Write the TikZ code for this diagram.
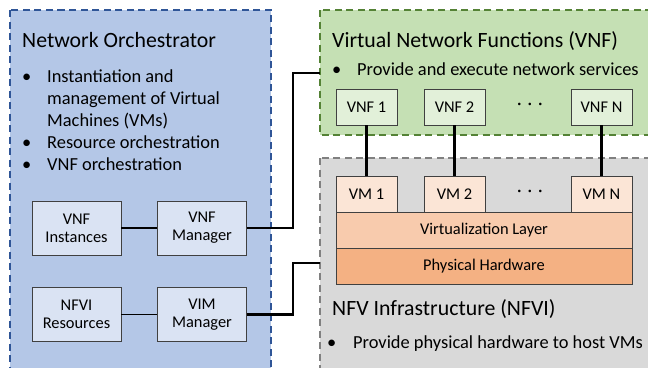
\documentclass[tikz,border=0pt]{standalone}
\usepackage{fontspec}
\setmainfont{Carlito}
\usetikzlibrary{positioning}
\definecolor{orchFill}{HTML}{B4C7E7}
\definecolor{orchLine}{HTML}{2F5597}
\definecolor{orchBox}{HTML}{DAE3F3}
\definecolor{vnfFill}{HTML}{C5E0B4}
\definecolor{vnfLine}{HTML}{548235}
\definecolor{vnfBox}{HTML}{E2F0D9}
\definecolor{nfviFill}{HTML}{D9D9D9}
\definecolor{nfviLine}{HTML}{808080}
\definecolor{vmFill}{HTML}{FBE5D6}
\definecolor{virtFill}{HTML}{F8CBAD}
\definecolor{hwFill}{HTML}{F4B183}
\tikzset{
  area/.style={line width=1.8pt, dash pattern=on 7pt off 4.5pt},
  box/.style={rectangle, draw=black!75, line width=0.9pt, align=center, inner sep=0pt,
    font={\fontsize{16.4}{18}\selectfont}},
  mgrBox/.style={box, fill=orchBox, minimum width=89pt, minimum height=54pt},
  funcBox/.style={box, fill=vnfBox, minimum width=61pt, minimum height=36pt},
  vmBox/.style={box, fill=vmFill, minimum width=61pt, minimum height=36pt},
  layer/.style={box, minimum width=296pt, minimum height=36pt},
  title/.style={anchor=base west, inner sep=0pt, font={\fontsize{21.8}{26}\selectfont}},
  item/.style={anchor=base west, inner sep=0pt, align=left, font={\fontsize{18.4}{22}\selectfont}},
  dots/.style={inner sep=0pt, font={\fontsize{18}{22}\selectfont}},
  link/.style={line width=2.2pt},
  shortLink/.style={line width=1.6pt}
}
\begin{document}
\begin{tikzpicture}[x=1pt, y=-1pt]
  \useasboundingbox (0,0) rectangle (648,367);
  \clip (0,0) rectangle (648,367);
  % the three areas
  \draw[area, draw=orchLine, fill=orchFill] (10,10) rectangle (271,380);
  \draw[area, draw=vnfLine, fill=vnfFill] (320,10) rectangle (660,135);
  \draw[area, draw=nfviLine, fill=nfviFill] (320,158) rectangle (660,380);

  % network orchestrator
  \node[title] (orchTitle) at (22,47) {Network Orchestrator};
  \node[item] (orchDotA) at (22,82) {\textbullet};
  \node[item] (orchItemA) at (47,126) {Instantiation and\\management of Virtual\\Machines (VMs)};
  \node[item] (orchDotB) at (22,148) {\textbullet};
  \node[item] (orchItemB) at (47,148) {Resource orchestration};
  \node[item] (orchDotC) at (22,170) {\textbullet};
  \node[item] (orchItemC) at (47,170) {VNF orchestration};

  \node[mgrBox] (vnfInst) at (76.5,228) {VNF\\Instances};
  \node[mgrBox] (vnfMgr) at (202,228) {VNF\\Manager};
  \node[mgrBox] (nfviRes) at (76.5,314.5) {NFVI\\Resources};
  \node[mgrBox] (vimMgr) at (202,314.5) {VIM\\Manager};

  % virtual network functions
  \node[title] (vnfTitle) at (332,47) {Virtual Network Functions (VNF)};
  \node[item] (vnfDot) at (332,75) {\textbullet};
  \node[item] (vnfItem) at (357,75) {Provide and execute network services};
  \node[funcBox] (vnfA) at (366.5,107) {VNF 1};
  \node[funcBox] (vnfB) at (454.5,107) {VNF 2};
  \node[dots] (vnfDots) at (530,106) {\textperiodcentered\,\,\textperiodcentered\,\,\textperiodcentered};
  \node[funcBox] (vnfN) at (601.5,107) {VNF N};

  % nfv infrastructure
  \node[vmBox] (vmA) at (366.5,194) {VM 1};
  \node[vmBox] (vmB) at (454.5,194) {VM 2};
  \node[dots] (vmDots) at (530,193) {\textperiodcentered\,\,\textperiodcentered\,\,\textperiodcentered};
  \node[vmBox] (vmN) at (601.5,194) {VM N};
  \node[layer, fill=virtFill] (virtLayer) at (484,230) {Virtualization Layer};
  \node[layer, fill=hwFill] (hwLayer) at (484,266) {Physical Hardware};
  \node[title] (nfviTitle) at (332,315) {NFV Infrastructure (NFVI)};
  \node[item] (nfviDot) at (327,348) {\textbullet};
  \node[item] (nfviItem) at (353,348) {Provide physical hardware to host VMs};

  % connectors
  \coordinate (vnfIn) at (320,73);
  \coordinate (nfviIn) at (320,263);
  \draw[shortLink] (vnfInst) -- (vnfMgr);
  \draw[shortLink] (nfviRes) -- (vimMgr);
  \draw[link] (vnfMgr.east) -- (293,228) |- (vnfIn);
  \draw[link] (vimMgr.east) -- (293,314.5) |- (nfviIn);
  \draw[link] (vnfA) -- (vmA);
  \draw[link] (vnfB) -- (vmB);
  \draw[link] (vnfN) -- (vmN);
\end{tikzpicture}
\end{document}
